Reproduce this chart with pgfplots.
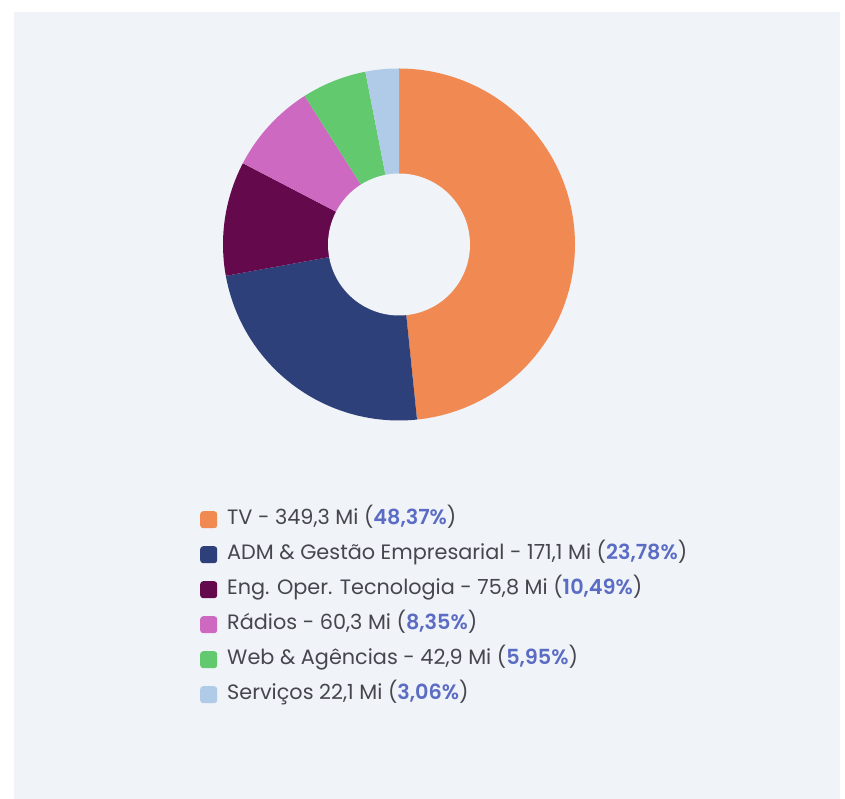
\documentclass[border=0pt]{standalone}
\usepackage{fontspec}
\setmainfont{Poppins}
\newfontfamily\semib{Poppins}[UprightFont={* SemiBold}]
\usepackage{pgfplots}
\pgfplotsset{compat=1.18}
\definecolor{bg}{HTML}{F0F3F8}
\definecolor{cTV}{HTML}{F08A52}
\definecolor{cADM}{HTML}{2E4079}
\definecolor{cENG}{HTML}{640A4C}
\definecolor{cRAD}{HTML}{CE69C2}
\definecolor{cWEB}{HTML}{62C96E}
\definecolor{cSER}{HTML}{B0CBE8}
\definecolor{pct}{HTML}{5B6CC4}
\definecolor{txt}{HTML}{45464F}
\begin{document}
\begin{tikzpicture}
\begin{axis}[
  x=1pt, y=1pt, xmin=0, xmax=845, ymin=0, ymax=799,
  scale only axis, hide axis, clip=false,
  legend cell align=left,
  legend image code/.code={\fill[#1,rounded corners=3pt] (0pt,-8.5pt) rectangle (17pt,8.5pt);},
  legend style={draw=none, fill=none, at={(axis cs:197,292.5)}, anchor=north west,
    font=\fontsize{20.8}{24}\selectfont\color{txt}, row sep=13pt, column sep=8pt,
    nodes={inner sep=2pt, text height=14pt, text depth=4pt}},
]
% background
\addplot[fill=white, draw=none, forget plot] coordinates {(0,0) (845,0) (845,799) (0,799)} -- cycle;
\addplot[fill=bg, draw=none, forget plot] coordinates {(14,0) (840,0) (840,787) (14,787)} -- cycle;
% shares (%): TV 48.37, ADM 23.78, Eng 10.49, Radios 8.35, Web 5.95, Servicos 3.06
% slices run clockwise from the top (90 deg); 1% = 3.6 deg
\addplot[fill=cTV, draw=none, domain=90:-84.13, samples=90, variable=\t]
  ({399+176*cos(t)}, {554.5+176*sin(t)}) -- (axis cs:399,554.5) -- cycle;
\addlegendentry{TV - 349,3 Mi (\textcolor{pct}{\semib 48,37\%})}
\addplot[fill=cADM, draw=none, domain=-84.13:-169.74, samples=50, variable=\t]
  ({399+176*cos(t)}, {554.5+176*sin(t)}) -- (axis cs:399,554.5) -- cycle;
\addlegendentry{ADM \& Gestão Empresarial - 171,1 Mi (\textcolor{pct}{\semib 23,78\%})}
\addplot[fill=cENG, draw=none, domain=-169.74:-207.50, samples=30, variable=\t]
  ({399+176*cos(t)}, {554.5+176*sin(t)}) -- (axis cs:399,554.5) -- cycle;
\addlegendentry{Eng. Oper. Tecnologia - 75,8 Mi (\textcolor{pct}{\semib 10,49\%})}
\addplot[fill=cRAD, draw=none, domain=-207.50:-237.56, samples=25, variable=\t]
  ({399+176*cos(t)}, {554.5+176*sin(t)}) -- (axis cs:399,554.5) -- cycle;
\addlegendentry{Rádios - 60,3 Mi (\textcolor{pct}{\semib 8,35\%})}
\addplot[fill=cWEB, draw=none, domain=-237.56:-258.98, samples=20, variable=\t]
  ({399+176*cos(t)}, {554.5+176*sin(t)}) -- (axis cs:399,554.5) -- cycle;
\addlegendentry{Web \& Agências - 42,9 Mi (\textcolor{pct}{\semib 5,95\%})}
\addplot[fill=cSER, draw=none, domain=-258.98:-270, samples=12, variable=\t]
  ({399+176*cos(t)}, {554.5+176*sin(t)}) -- (axis cs:399,554.5) -- cycle;
\addlegendentry{Serviços 22,1 Mi (\textcolor{pct}{\semib 3,06\%})}
% donut hole
\addplot[fill=bg, draw=none, forget plot, domain=0:360, samples=120, variable=\t]
  ({399+71*cos(t)}, {554.5+71*sin(t)}) -- cycle;
\end{axis}
\end{tikzpicture}
\end{document}
